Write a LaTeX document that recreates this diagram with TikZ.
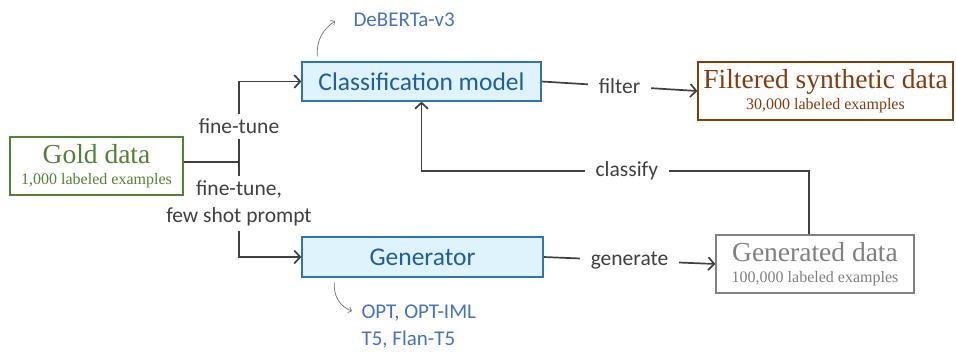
\documentclass[tikz,border=0pt]{standalone}
\usepackage{fontspec}
\setmainfont{Carlito}
\newfontfamily\datafont{Liberation Serif}
\usetikzlibrary{positioning}
\usetikzlibrary{calc}
\usetikzlibrary{arrows.meta}
\definecolor{line colour}{HTML}{404040}
\definecolor{gold colour}{HTML}{548235}
\definecolor{model fill}{HTML}{DEF3FB}
\definecolor{model border}{HTML}{2E75B6}
\definecolor{model text}{HTML}{1F5F9F}
\definecolor{note colour}{HTML}{4472C4}
\definecolor{filtered colour}{HTML}{843C0C}
\definecolor{generated colour}{HTML}{808080}
\colorlet{pointer colour}{black!55}
\tikzset{
    % Open chevron arrow heads, like the slide the picture came from
    >={Straight Barb[length=6pt,width=13pt]},
%
    % Boxes
    model/.style={draw=model border, line width=1.2pt, fill=model fill,
        text=model text, font=\fontsize{25.5}{25.5}\selectfont},
    data/.style={draw=#1, line width=1.2pt, text=#1, fill=white, align=center,
        font=\datafont\fontsize{16}{21}\selectfont},
    % Lines
    flow/.style={color=line colour, line width=1.7pt},
    pointer/.style={color=pointer colour, line width=0.7pt,
        -{Straight Barb[length=3pt,width=6pt]}},
    % Labels that sit on top of a line
    on line/.style={fill=white, text=line colour, inner xsep=11pt, inner ysep=5pt,
        font=\fontsize{21.5}{27}\selectfont, align=center},
    note/.style={text=note colour, font=\fontsize{21}{27}\selectfont,
        align=left},
%
    every node/.style={align=center},
}
\pgfdeclarelayer{background}
\pgfsetlayers{background,main}

\begin{document}
\begin{tikzpicture}[x=1pt, y=1pt]

\useasboundingbox (0,0) rectangle (956,356);

\path
    (96.5,190) node (gold) [data=gold colour,
        minimum width=173pt, minimum height=58pt]
        {{\fontsize{27.5}{27.5}\selectfont Gold data}\\1,000 labeled examples}
    (421.5,274.5) node (cls) [model,
        minimum width=239pt, minimum height=39pt] {Classification model}
    (422.5,99) node (gen) [model,
        minimum width=241pt, minimum height=40pt] {Generator}
    (825.5,265) node (filt) [data=filtered colour,
        minimum width=255pt, minimum height=58pt]
        {{\fontsize{27.5}{27.5}\selectfont Filtered synthetic data}\\30,000 labeled examples}
    (815,92) node (gend) [data=generated colour,
        minimum width=198pt, minimum height=58pt]
        {{\fontsize{27.5}{27.5}\selectfont Generated data}\\100,000 labeled examples};

\node (deb) [note, anchor=west] at (350,336) {DeBERTa-v3};
\node (opt) [note, anchor=north west] at (358,55) {OPT, OPT-IML\\T5, Flan-T5};

\coordinate (split) at (239,194);
\coordinate (turn) at (cls.south |- 0,185);

% connectors go behind the boxes
\begin{pgfonlayer}{background}
\draw [flow] (gold.east |- split) -- (split);
\draw [flow, ->] (split) |- node [on line, pos=0.22] {fine-tune} (cls.west);
\draw [flow, ->] (split) |- node [on line, pos=0.22] {fine-tune,\\few shot prompt} (gen.west);
\draw [flow, ->] (cls.east) -- node [on line] {filter} (filt.west);
\draw [flow, ->] (gen.east) -- node [on line] {generate} (gend.west);
\draw [flow, ->] ([xshift=-6pt]gend.north) |- node [on line, pos=0.735] {classify} (turn) -- (cls.south);
\end{pgfonlayer}

\draw [pointer] ([shift={(16pt,5pt)}]cls.north west) to [out=95, in=215] ([shift={(-15pt,-1pt)}]deb.west);
\draw [pointer] ([shift={(33pt,-5pt)}]gen.south west) to [out=-95, in=160] ([shift={(-6pt,-10pt)}]opt.north west);

\end{tikzpicture}
\end{document}
